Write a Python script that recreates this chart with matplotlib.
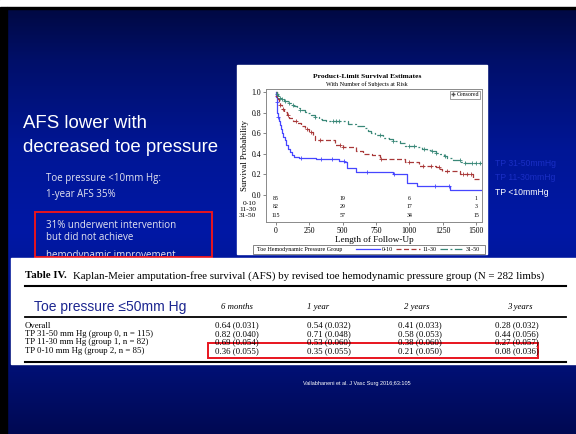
import numpy as np
import matplotlib.pyplot as plt
from matplotlib.lines import Line2D
from matplotlib.patches import Rectangle

W, H = 576, 434

# --- Kaplan-Meier curves (days, survival) ---
t_lo = [0, 2, 4, 6, 9, 12, 20, 28, 36, 45, 55, 65, 78, 92, 106, 120, 135, 170,
        300, 470, 512, 535, 600, 880, 982, 1057, 1307, 1540]
s_lo = [1.0, 0.95, 0.90, 0.85, 0.80, 0.76, 0.72, 0.68, 0.64, 0.60, 0.56, 0.53,
        0.49, 0.45, 0.42, 0.39, 0.37, 0.36, 0.35, 0.335, 0.32, 0.265, 0.22, 0.20,
        0.12, 0.085, 0.045, 0.045]
t_mid = [0, 5, 12, 20, 30, 45, 60, 80, 100, 130, 160, 190, 215, 250, 275, 295, 440,
         505, 600, 650, 720, 780, 970, 1075, 1200, 1230, 1245, 1383, 1478, 1540]
s_mid = [1.0, 0.96, 0.93, 0.90, 0.87, 0.84, 0.81, 0.78, 0.75, 0.72, 0.70, 0.67,
         0.64, 0.61, 0.57, 0.535, 0.49, 0.466, 0.427, 0.40, 0.39, 0.35, 0.325, 0.28,
         0.27, 0.25, 0.235, 0.20, 0.158, 0.158]
t_hi = [0, 5, 12, 22, 40, 60, 90, 115, 135, 160, 180, 215, 240, 260, 290, 323, 345,
        372, 540, 600, 660, 690, 715, 740, 800, 850, 880, 930, 970, 1060, 1095, 1130,
        1160, 1200, 1230, 1260, 1285, 1330, 1385, 1420, 1540]
s_hi = [1.0, 0.98, 0.96, 0.945, 0.93, 0.91, 0.89, 0.875, 0.865, 0.85, 0.825, 0.81,
        0.795, 0.78, 0.76, 0.735, 0.725, 0.715, 0.69, 0.675, 0.65, 0.62, 0.60, 0.585,
        0.556, 0.54, 0.524, 0.51, 0.478, 0.465, 0.45, 0.44, 0.427, 0.41, 0.395, 0.375,
        0.36, 0.34, 0.32, 0.31, 0.31]

# censored observations (days)
c_lo = [5, 12, 185, 335, 422, 510, 680, 883, 1195, 1295]
c_mid = [10, 30, 50, 90, 150, 230, 262, 330, 480, 505, 790, 1000, 1100, 1160,
         1220, 1280, 1400, 1430, 1460]
c_hi = [10, 30, 45, 70, 100, 125, 180, 290, 430, 450, 470, 780, 880, 1000, 1035,
        1110, 1170, 1200, 1270, 1380, 1420, 1470, 1500, 1530]

groups = ['0-10', '11-30', '31-50']
risk_times = [0, 500, 1000, 1500]
risk_lo = [85, 19, 6, 1]
risk_mid = [82, 29, 17, 3]
risk_hi = [115, 57, 34, 15]

# --- Table IV values ---
tbl_cols = ['6 months', '1 year', '2 years', '3 years']
tbl_rows = ['Overall', 'TP 31-50 mm Hg (group 0, n = 115)',
            'TP 11-30 mm Hg (group 1, n = 82)', 'TP 0-10 mm Hg (group 2, n = 85)']
tbl_vals = [['0.64 (0.031)', '0.54 (0.032)', '0.41 (0.033)', '0.28 (0.032)'],
            ['0.82 (0.040)', '0.71 (0.048)', '0.58 (0.053)', '0.44 (0.056)'],
            ['0.69 (0.054)', '0.53 (0.060)', '0.38 (0.060)', '0.27 (0.057)'],
            ['0.36 (0.055)', '0.35 (0.055)', '0.21 (0.050)', '0.08 (0.036)']]


def fx(px):
    return px / W


def fy(py):
    return 1 - py / H


SANS = 'Liberation Sans'
SERIF = 'Liberation Serif'

fig = plt.figure(figsize=(5.76, 4.34), dpi=100)

# slide background: vertical blue gradient
bg = fig.add_axes([0, 0, 1, 1])
rows_px = np.arange(H)
stops_y = [0, 60, 150, 230, 320, 434]
stops_b = [60, 105, 150, 165, 140, 82]
stops_g = [8, 15, 22, 24, 20, 9]
b = np.interp(rows_px, stops_y, stops_b) / 255
g = np.interp(rows_px, stops_y, stops_g) / 255
img = np.zeros((H, 1, 3))
img[:, 0, 1] = g
img[:, 0, 2] = b
bg.imshow(img, aspect='auto', extent=[0, W, H, 0], interpolation='bilinear')
bg.set_xlim(0, W)
bg.set_ylim(H, 0)
bg.axis('off')
bg.add_patch(Rectangle((0, 0), W, 7, color='white', zorder=2))
bg.add_patch(Rectangle((0, 7), 7, H, color='black', zorder=2))
bg.add_patch(Rectangle((7, 7), W, 2, color='black', zorder=2))

# white area for the figure image
bg.add_patch(Rectangle((237, 65), 250, 189, color='white', zorder=2))

# left text (drawn in the background axes so the table image covers the last line)
bg.text(23, 123, 'AFS lower with', color='white', fontsize=13.4,
        family=SANS, va='center', zorder=3)
bg.text(23, 148, 'decreased toe pressure', color='white', fontsize=13.4,
        family=SANS, va='center', zorder=3)
for txt, py in [('Toe pressure <10mm Hg:', 179), ('1-year AFS 35%', 195),
                ('31% underwent intervention', 225), ('but did not achieve', 237),
                ('hemodynamic improvement.', 255.5)]:
    bg.text(46, py, txt, color='#e4e4f0', fontsize=7.0, family='Open Sans',
            va='center', zorder=3)
bg.add_patch(Rectangle((35, 212), 177, 45, fill=False, ec='#e8141e', lw=1.4, zorder=3))

# white area for the table image
bg.add_patch(Rectangle((11, 258), W - 11, 106, color='white', zorder=4))

# right labels
fig.text(fx(495), fy(163), 'TP 31-50mmHg', color='#1a2ec4', fontsize=6.2,
         family=SANS, va='center')
fig.text(fx(495), fy(177), 'TP 11-30mmHg', color='#1a2ec4', fontsize=6.2,
         family=SANS, va='center')
fig.text(fx(495), fy(192), 'TP <10mmHg', color='white', fontsize=6.2,
         family=SANS, va='center')

# --- KM plot ---
ax = fig.add_axes([fx(266), fy(222), fx(482) - fx(266), fy(89) - fy(222)])
c_b, c_r, c_gr = '#4646ff', '#a83838', '#3a8878'
styles = [(t_lo, s_lo, c_lo, c_b, '-'),
          (t_mid, s_mid, c_mid, c_r, (0, (4, 2))),
          (t_hi, s_hi, c_hi, c_gr, (0, (6, 2, 1.5, 2)))]
handles = []
for t, s, cens, col, ls in styles:
    ln, = ax.step(t, s, where='post', color=col, lw=0.9, ls=ls)
    handles.append(ln)
    # survival value at censor time is the step value
    idx = np.searchsorted(t, cens, side='right') - 1
    cy = np.array(s)[idx]
    ax.plot(cens, cy, '+', color=col, ms=3, mew=0.6)

for risk, y in zip([risk_lo, risk_mid, risk_hi], [-0.03, -0.115, -0.195]):
    for tx, n in zip(risk_times, risk):
        ax.text(tx, y, str(n), ha='center', va='center', fontsize=4.2, family=SERIF)
for lab, y in zip(groups, [-0.085, -0.14, -0.2]):
    ax.text(-0.045, y, lab, transform=ax.get_yaxis_transform(), ha='right',
            va='center', fontsize=5.4, family=SERIF, clip_on=False)

ax.set_xlim(-75, 1545)
ax.set_ylim(-0.262, 1.03)
ax.set_yticks([0, 0.2, 0.4, 0.6, 0.8, 1.0])
ax.set_xticks([0, 250, 500, 750, 1000, 1250, 1500])
ax.set_yticklabels(['0.0', '0.2', '0.4', '0.6', '0.8', '1.0'])
ax.tick_params(labelsize=5.6, length=2, width=0.5, pad=1.5, color='#555555')
for lab in ax.get_xticklabels() + ax.get_yticklabels():
    lab.set_family(SERIF)
for sp in ax.spines.values():
    sp.set_color('#8a8a8a')
    sp.set_linewidth(0.7)
ax.set_xlabel('Length of Follow-Up', fontsize=6.6, family=SERIF, labelpad=0.5)
ax.set_ylabel('Survival Probability', fontsize=6.2, family=SERIF, labelpad=2)

cleg = ax.legend([Line2D([], [], ls='none', marker='+', color='#555555', ms=3)],
                 ['Censored'], loc='upper right', frameon=True,
                 fancybox=False, borderpad=0.25, handlelength=0.6, handletextpad=0.2,
                 borderaxespad=0.3, prop={'family': SERIF, 'size': 4.2})
cleg.get_frame().set_edgecolor('#555555')
cleg.get_frame().set_linewidth(0.5)

fig.text(fx(367), fy(76), 'Product-Limit Survival Estimates', ha='center',
         va='center', fontsize=5.4, family=SERIF, weight='bold')
fig.text(fx(367), fy(84), 'With Number of Subjects at Risk', ha='center',
         va='center', fontsize=4.4, family=SERIF)

# bottom group legend
bg.add_patch(Rectangle((253, 245), 232, 8.5, fill=False, ec='#555555', lw=0.5,
                       zorder=3))
fig.text(fx(257), fy(249.3), 'Toe Hemodynamic Pressure Group', va='center',
         fontsize=4.3, family=SERIF)
gleg = fig.legend(handles, groups, loc='center left',
                  bbox_to_anchor=(fx(356), fy(249.3)),
                  ncol=3, frameon=False, prop={'family': SERIF, 'size': 4.3},
                  handlelength=4.0, handletextpad=0.3, columnspacing=0.6,
                  borderpad=0, borderaxespad=0)

# --- Table IV ---
fig.text(fx(25), fy(276), 'Table IV.', fontsize=7.8, family=SERIF, weight='bold',
         va='center')
fig.text(fx(73), fy(276), 'Kaplan-Meier amputation-free survival (AFS) by revised toe '
         'hemodynamic pressure group (N = 282 limbs)', fontsize=7.8, family=SERIF,
         va='center')
bg.plot([25, 566], [285.5, 285.5], color='black', lw=1.5, zorder=5)
bg.plot([25, 566], [316.5, 316.5], color='black', lw=1.3, zorder=5)
bg.plot([25, 566], [361.5, 361.5], color='black', lw=1.5, zorder=5)
fig.text(fx(34), fy(306.5), 'Toe pressure \u226450mm Hg', fontsize=10, family=SANS,
         color='#1c2690', va='center')
col_c = [237, 318, 417, 520]
col_l = [215, 307, 398, 495]
for name, cx in zip(tbl_cols, col_c):
    fig.text(fx(cx), fy(307), name, ha='center', va='center', fontsize=6.3,
             family=SERIF, style='italic')
row_y = [325.5, 334, 342.5, 351]
for name, vals, ry in zip(tbl_rows, tbl_vals, row_y):
    fig.text(fx(25), fy(ry), name, va='center', fontsize=6.3, family=SERIF)
    for v, cx in zip(vals, col_l):
        fig.text(fx(cx), fy(ry), v, va='center', fontsize=6.3, family=SERIF)
bg.add_patch(Rectangle((208, 343), 330, 15, fill=False, ec='#e8141e', lw=1.4,
                       zorder=6))

fig.text(fx(357), fy(383), 'Vallabhaneni et al. J Vasc Surg 2016;63:105', ha='center',
         va='center', fontsize=4.0, family=SANS, color='white')

fig.savefig('out.png', dpi=100)
